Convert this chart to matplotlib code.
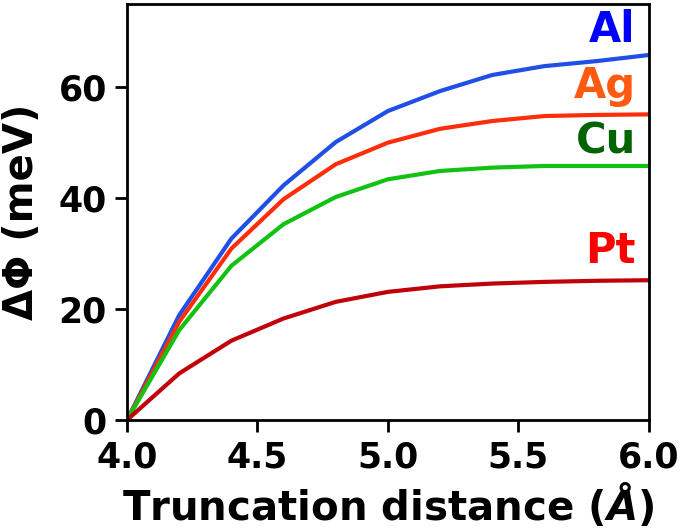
import matplotlib
matplotlib.use('Agg')
import matplotlib.pyplot as plt

# 截斷距離 (Å)
distance = [4.0, 4.2, 4.4, 4.6, 4.8, 5.0, 5.2, 5.4, 5.6, 5.8, 6.0]

# ΔΦ (meV)
al = [0.0, 18.9, 32.7, 42.3, 50.1, 55.7, 59.3, 62.2, 63.8, 64.7, 65.8]
ag = [0.0, 17.7, 30.9, 39.8, 46.1, 50.0, 52.5, 53.9, 54.8, 55.0, 55.1]
cu = [0.0, 16.2, 27.8, 35.3, 40.2, 43.4, 44.9, 45.5, 45.8, 45.8, 45.8]
pt = [0.0, 8.4, 14.3, 18.3, 21.3, 23.1, 24.1, 24.6, 24.9, 25.1, 25.2]

labels = ['Al', 'Ag', 'Cu', 'Pt']
label_y = [68.1, 58.0, 48.1, 28.3]

plt.rcParams['font.family'] = ['DejaVu Sans']
plt.rcParams['font.weight'] = 'bold'
plt.rcParams['mathtext.default'] = 'bf'

fig = plt.figure(figsize=(6.8, 5.32), dpi=100)
ax = fig.add_axes([0.1868, 0.2105, 0.7672, 0.782])

ax.plot(distance, al, color='#1f4fe6', lw=3)
ax.plot(distance, ag, color='#ff2d0a', lw=3)
ax.plot(distance, cu, color='#12c212', lw=3)
ax.plot(distance, pt, color='#c0000a', lw=3)

text_colors = ['#0000ff', '#ff5a10', '#006400', '#ff0000']
for lab, y, c in zip(labels, label_y, text_colors):
    ax.text(5.95, y, lab, color=c, fontsize=30, fontweight='bold',
            ha='right', va='baseline')

ax.set_xlim(4.0, 6.0)
ax.set_ylim(0, 75)
ax.set_xticks([4.0, 4.5, 5.0, 5.5, 6.0])
ax.set_yticks([0, 20, 40, 60])

ax.set_xlabel(r'Truncation distance ($\mathit{\AA}$)', fontsize=29, fontweight='bold',
              labelpad=5)
ax.set_ylabel(r'ΔΦ (meV)', fontsize=29, fontweight='bold', labelpad=12)

ax.tick_params(labelsize=25, width=2, length=8.5, pad=6, direction='out')
for sp in ax.spines.values():
    sp.set_linewidth(2)

fig.savefig('out.png', dpi=100)
